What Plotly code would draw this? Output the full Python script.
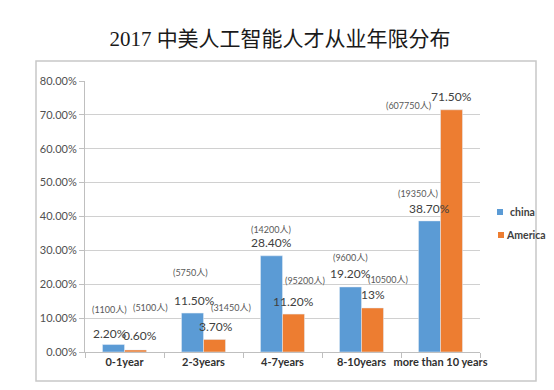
import plotly.graph_objects as go

categories = ["0-1year", "2-3years", "4-7years", "8-10years", "more than 10 years"]
china_values = [2.2, 11.5, 28.4, 19.2, 38.7]
america_values = [0.6, 3.7, 11.2, 13.0, 71.5]
china_pct_labels = ["2.20%", "11.50%", "28.40%", "19.20%", "38.70%"]
america_pct_labels = ["0.60%", "3.70%", "11.20%", "13%", "71.50%"]
china_counts = ["(1100人)", "(5750人)", "(14200人)", "(9600人)", "(19350人)"]
america_counts = ["(5100人)", "(31450人)", "(95200人)", "(10500人)", "(607750人)"]
y_ticks = [0, 10, 20, 30, 40, 50, 60, 70, 80]
y_tick_labels = ["0.00%", "10.00%", "20.00%", "30.00%", "40.00%", "50.00%", "60.00%", "70.00%", "80.00%"]

BLUE = "#5B9BD5"
ORANGE = "#ED7D31"

# pixel layout of plot area
L, R, T, B = 77, 82, 73, 46
W, H = 554, 390
pw, ph = W - L - R, H - T - B

# label offsets (style): (xshift, yshift) in pixels relative to bar center/top
china_pct_off = [(-3, 11), (2, 13), (0, 13), (0, 13), (0, 12)]
america_pct_off = [(4, 14), (1, 13), (0, 13), (0, 13), (0, 13)]
china_cnt_off = [(-4, 35), (-2, 41), (0, 26), (0, 29), (-11, 27)]
america_cnt_off = [(15, 42), (16, 32), (11, 34), (15, 28), (-43, 4)]

fig = go.Figure()
fig.add_trace(go.Bar(x=categories, y=china_values, name="china", marker_color=BLUE,
                     showlegend=False))
fig.add_trace(go.Bar(x=categories, y=america_values, name="America", marker_color=ORANGE,
                     showlegend=False))

ann = []
half = pw / len(categories) * (1 - 0.443) / 4
for i, c in enumerate(categories):
    for val, txt, off, side, size, col in [
        (china_values[i], china_pct_labels[i], china_pct_off[i], -1, 12, "#404040"),
        (america_values[i], america_pct_labels[i], america_pct_off[i], 1, 12, "#404040"),
        (china_values[i], china_counts[i], china_cnt_off[i], -1, 9, "#595959"),
        (america_values[i], america_counts[i], america_cnt_off[i], 1, 9, "#595959"),
    ]:
        ann.append(dict(x=c, y=val, xref="x", yref="y", text=txt, showarrow=False,
                        xshift=side * half + off[0], yshift=off[1],
                        font=dict(size=size, color=col, family="Lato, Liberation Sans, Noto Sans CJK SC"),
                        xanchor="center", yanchor="middle"))

def px_x(x):
    return (x - L) / pw

def px_y(y):
    return (H - B - y) / ph

# legend (manual)
ann.append(dict(x=px_x(500), y=px_y(204), xref="paper", yref="paper", text="<b>china</b>",
                showarrow=False, xanchor="left", yanchor="middle",
                font=dict(size=10.5, color="#404040", family="Lato, Liberation Sans")))
ann.append(dict(x=px_x(496), y=px_y(227), xref="paper", yref="paper", text="<b>America</b>",
                showarrow=False, xanchor="left", yanchor="middle",
                font=dict(size=10.5, color="#404040", family="Lato, Liberation Sans")))

shapes = [
    dict(type="rect", xref="paper", yref="paper", x0=px_x(28), x1=px_x(528),
         y0=px_y(373), y1=px_y(53), line=dict(color="#c8c8c8", width=1.5), layer="below"),
    dict(type="rect", xref="paper", yref="paper", x0=px_x(489), x1=px_x(495),
         y0=px_y(207), y1=px_y(201), fillcolor=BLUE, line=dict(width=0)),
    dict(type="rect", xref="paper", yref="paper", x0=px_x(490), x1=px_x(496),
         y0=px_y(230), y1=px_y(224), fillcolor=ORANGE, line=dict(width=0)),
]

fig.update_layout(
    width=W, height=H,
    margin=dict(l=L, r=R, t=T, b=B, pad=0),
    paper_bgcolor="white", plot_bgcolor="white",
    barmode="group", bargap=0.443, bargroupgap=0,
    title=dict(text="2017 中美人工智能人才从业年限分布", x=272 / W, xanchor="center",
               y=1 - 31 / H, yanchor="middle", yref="container",
               font=dict(size=21, color="#1a1a1a", family="Liberation Serif, Noto Sans CJK SC")),
    annotations=ann, shapes=shapes,
    xaxis=dict(showline=True, linecolor="#bfbfbf", linewidth=1, ticks="outside",
               tickson="boundaries", ticklen=5, tickcolor="#bfbfbf", tickangle=0,
               tickfont=dict(size=11, color="#303030", family="Lato, Liberation Sans", weight="bold"),
               showgrid=False),
    yaxis=dict(range=[0, 80], tickvals=y_ticks, ticktext=y_tick_labels,
               showline=True, linecolor="#bfbfbf", linewidth=1, ticks="outside", ticklen=5,
               tickcolor="#bfbfbf", gridcolor="#d0d0d0", gridwidth=1,
               tickfont=dict(size=11, color="#505050", family="Lato, Liberation Sans"),
               zeroline=False),
)

fig.write_html("out.html")
